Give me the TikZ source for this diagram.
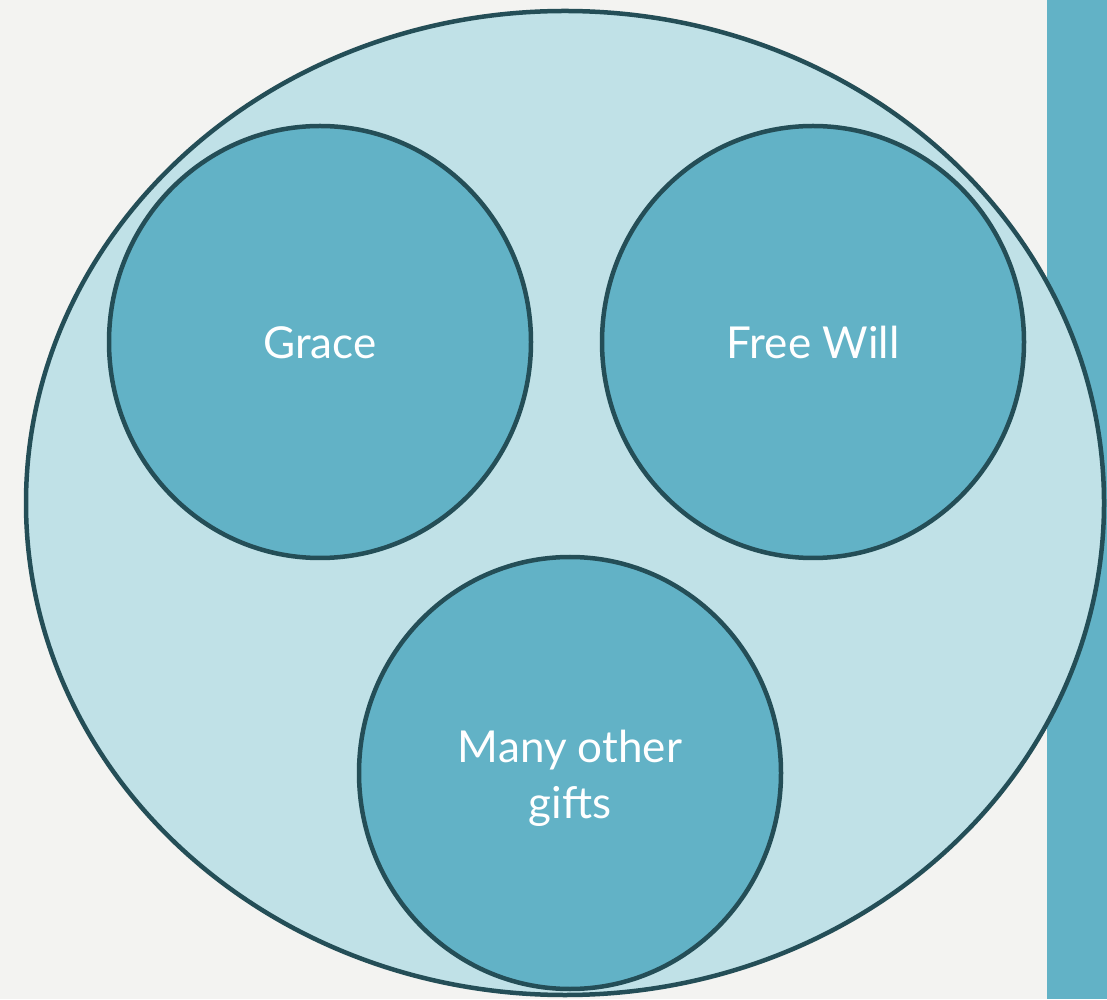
\documentclass[tikz,border=0pt]{standalone}
\usepackage{fontspec}
\setmainfont{Lato}
\usetikzlibrary{shapes.geometric}
\definecolor{bg}{HTML}{F3F3F1}
\definecolor{ellfill}{HTML}{C0E1E7}
\definecolor{circfill}{HTML}{62B2C6}
\definecolor{edge}{HTML}{244E57}
\tikzset{
  outer/.style={draw=edge, line width=4.5pt, fill=ellfill},
  gift/.style={ellipse, draw=edge, line width=4.5pt, fill=circfill, minimum width=422pt, minimum height=432pt, inner sep=0pt},
  label/.style={text=white, font=\fontsize{44}{56}\selectfont, anchor=base, inner sep=0pt, align=center}
}
\begin{document}
\begin{tikzpicture}[x=1pt,y=1pt]
  \useasboundingbox (0,0) rectangle (1107,999);
  \fill[bg] (0,0) rectangle (1107,999);
  \fill[circfill] (1047,0) rectangle (1107,999);
  \draw[outer] (565,496) ellipse [x radius=539, y radius=492];
  \node[gift] (grace) at (320,657) {};
  \node[gift] (free) at (813,657) {};
  \node[gift] (many) at (570,226) {};
  \node[label] (tgrace) at (320,640) {Grace};
  \node[label] (tfree) at (813,640) {Free Will};
  \node[label] (tmany1) at (570,237) {Many other};
  \node[label] (tmany2) at (570,181) {gifts};
\end{tikzpicture}
\end{document}
